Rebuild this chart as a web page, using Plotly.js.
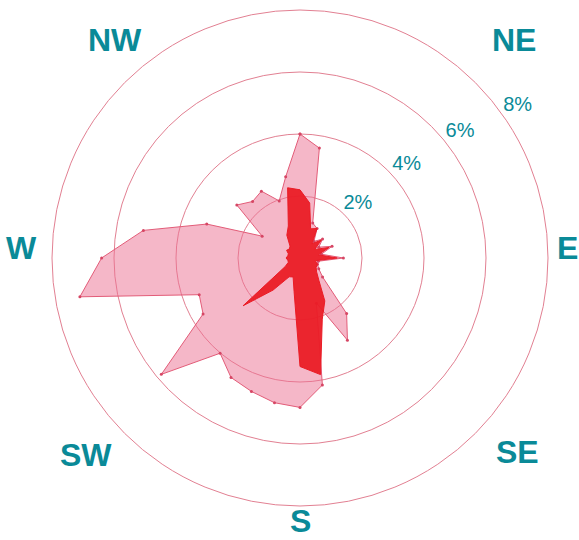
<!DOCTYPE html>
<html>
<head>
<meta charset="utf-8">
<script src="https://cdn.plot.ly/plotly-3.0.1.min.js"></script>
<style>html,body{margin:0;padding:0;background:#fff;}#chart{width:579px;height:540px;}</style>
</head>
<body>
<div id="chart"></div>
<script>
// Wind directions (bearing, degrees clockwise from north)
var directions = [0,10,20,30,40,50,60,70,80,90,100,110,120,130,140,150,160,170,
                  180,190,200,210,220,230,240,250,260,270,280,290,300,310,320,330,340,350];
// Light pink series (% frequency)
var seriesLight = [4.0,3.6,1.2,1.1,0.7,0.95,0.7,1.1,0.7,1.4,0.6,0.6,0.7,0.95,2.34,3.06,1.55,4.16,
                   4.82,4.74,4.58,4.45,4.01,5.84,3.61,3.46,7.21,6.40,5.13,3.20,1.41,2.66,2.38,2.49,1.96,2.66];
// Dark red series (% frequency)
var seriesDark = [2.2,1.8,1.0,1.1,0.6,0.9,0.55,1.0,0.6,1.2,0.5,0.6,0.6,0.7,0.95,1.6,2.1,3.82,
                  3.5,1.1,0.65,0.7,1.35,2.4,0.55,0.4,0.4,0.45,0.4,0.4,0.5,0.45,0.5,0.85,1.1,2.3];
// Radial tick values and labels
var radialTicks = [2,4,6,8];
var radialLabels = ['2%','4%','6%','8%'];
// Compass labels
var compassLabels = ['NE','E','SE','S','SW','W','NW'];
var compassBearings = [44.5,87.9,131.7,179.8,227.4,272.1,319.7];

var teal = '#0a8a98';
var gridPink = 'rgb(226,128,146)';

function closed(a){ return a.concat([a[0]]); }

var traces = [
  {
    type:'scatterpolar', mode:'lines+markers', fill:'toself',
    r: closed(seriesLight), theta: closed(directions),
    fillcolor:'rgba(236,112,146,0.5)',
    line:{color:'rgb(226,92,120)', width:1},
    marker:{color:'rgb(214,70,100)', size:3},
    hoverinfo:'skip', showlegend:false
  },
  {
    type:'scatterpolar', mode:'lines', fill:'toself',
    r: closed(seriesDark), theta: closed(directions),
    fillcolor:'rgba(234,28,38,0.95)',
    line:{color:'rgb(234,28,38)', width:1},
    hoverinfo:'skip', showlegend:false
  },
  {
    type:'scatterpolar', mode:'text',
    r: radialTicks,
    theta: radialTicks.map(function(v){ return 41 + 1.75*v; }),
    text: radialLabels, textposition:'top right',
    textfont:{family:'Liberation Sans, Arial, sans-serif', size:20, color:teal},
    cliponaxis:false, hoverinfo:'skip', showlegend:false
  }
];

// pixel geometry of the polar frame (from margins below)
var W = 579, H = 540;
var mL = 52, mR = 31, mT = 10, mB = 34;
var cx = mL + (W - mL - mR)/2, cy = mT + (H - mT - mB)/2;
var plotW = W - mL - mR, plotH = H - mT - mB;
var compassDist = [305.5, 268, 291.8, 263, 290.9, 278.2, 286];
var annotations = compassLabels.map(function(lbl, i){
  var b = compassBearings[i]*Math.PI/180;
  var px = cx + compassDist[i]*Math.sin(b);
  var py = cy - compassDist[i]*Math.cos(b);
  return {
    text: lbl, xref:'paper', yref:'paper',
    x: (px - mL)/plotW, y: (mT + plotH - py)/plotH,
    xanchor:'center', yanchor:'middle', showarrow:false,
    font:{family:'Liberation Sans, Arial, sans-serif', size:32, color:teal, weight:'bold'}
  };
});

var layout = {
  width: W, height: H,
  margin:{l:mL, r:mR, t:mT, b:mB, pad:0},
  paper_bgcolor:'#fff', plot_bgcolor:'#fff',
  showlegend:false,
  polar:{
    bgcolor:'rgba(0,0,0,0)',
    radialaxis:{range:[0,8], tickvals:radialTicks, showticklabels:false, ticks:'',
                showline:false, gridcolor:gridPink, gridwidth:1},
    angularaxis:{direction:'clockwise', rotation:90, showgrid:false, showticklabels:false,
                 ticks:'', linecolor:gridPink, linewidth:1}
  },
  annotations: annotations
};

Plotly.newPlot('chart', traces, layout, {displayModeBar:false, staticPlot:true});
</script>
</body>
</html>
